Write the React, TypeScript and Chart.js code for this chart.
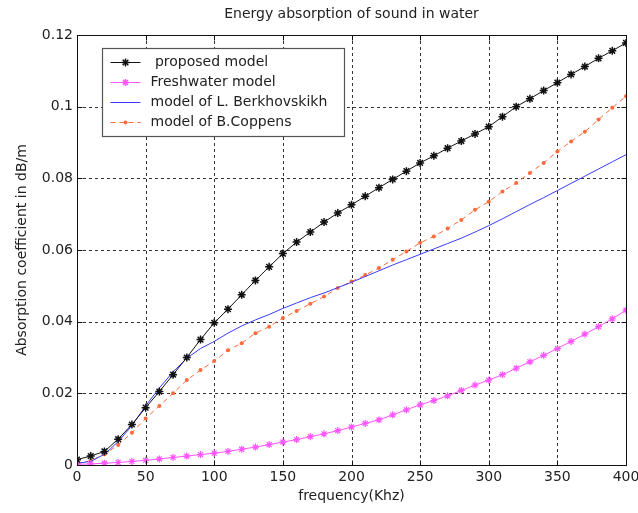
import { useEffect, useRef } from 'react';
import { Chart, registerables } from 'chart.js';

Chart.register(...registerables);

const chartTitle = 'Energy absorption of sound in water';
const xTitle = 'frequency(Khz)';
const yTitle = 'Absorption coefficient in dB/m';

const frequencies = [
  0, 10, 20, 30, 40, 50, 60, 70, 80, 90, 100, 110, 120, 130, 140, 150, 160, 170, 180, 190, 200,
  210, 220, 230, 240, 250, 260, 270, 280, 290, 300, 310, 320, 330, 340, 350, 360, 370, 380, 390, 400,
];

const proposedModel = [
  0.0015, 0.0025, 0.0038, 0.0072, 0.0113, 0.016, 0.0205, 0.0252, 0.03, 0.035, 0.0397,
  0.0435, 0.0475, 0.0515, 0.0553, 0.059, 0.0622, 0.065, 0.0678, 0.0703, 0.0726,
  0.075, 0.0774, 0.0797, 0.082, 0.0843, 0.0863, 0.0884, 0.0904, 0.0924, 0.0944,
  0.0972, 0.1, 0.1022, 0.1045, 0.1067, 0.109, 0.1112, 0.1135, 0.1156, 0.1178,
];

const freshwaterModel = [
  0.0002, 0.0003, 0.0005, 0.0007, 0.001, 0.0013, 0.0017, 0.0021, 0.0025, 0.0029, 0.0033,
  0.0038, 0.0044, 0.005, 0.0057, 0.0064, 0.0071, 0.0079, 0.0087, 0.0096, 0.0106,
  0.0116, 0.0126, 0.014, 0.0154, 0.0168, 0.018, 0.0193, 0.0208, 0.0223, 0.0237,
  0.0252, 0.027, 0.0288, 0.0306, 0.0325, 0.0345, 0.0365, 0.0386, 0.0408, 0.0432,
];

const berkhovskikhModel = [
  0.0005, 0.001, 0.003, 0.0065, 0.011, 0.0165, 0.0215, 0.026, 0.0298, 0.0325, 0.0345,
  0.0368, 0.0388, 0.0405, 0.042, 0.0437, 0.0452, 0.0467, 0.048, 0.0495, 0.051,
  0.0526, 0.0542, 0.0558, 0.0573, 0.0588, 0.0603, 0.0618, 0.0633, 0.065, 0.0668,
  0.0687, 0.0707, 0.0727, 0.0746, 0.0766, 0.0786, 0.0806, 0.0826, 0.0846, 0.0866,
];

const coppensModel = [
  0.0003, 0.0012, 0.003, 0.0056, 0.009, 0.013, 0.0165, 0.02, 0.0237, 0.0265, 0.029,
  0.032, 0.034, 0.0368, 0.0386, 0.041, 0.043, 0.045, 0.047, 0.0494, 0.0512,
  0.053, 0.055, 0.0573, 0.0596, 0.062, 0.0638, 0.066, 0.0684, 0.0712, 0.0735,
  0.0763, 0.0787, 0.0815, 0.0843, 0.0875, 0.0903, 0.093, 0.0964, 0.0997, 0.1029,
];

const seriesLabels = [' proposed model', 'Freshwater model', 'model of L. Berkhovskikh', 'model of B.Coppens'];

const xTicks = [0, 50, 100, 150, 200, 250, 300, 350, 400];
const xTickLabels = ['0', '50', '100', '150', '200', '250', '300', '350', '400'];
const yTicks = [0, 0.02, 0.04, 0.06, 0.08, 0.1, 0.12];
const yTickLabels = ['0', '0.02', '0.04', '0.06', '0.08', '0.1', '0.12'];

const FONT = '"DejaVu Sans", "Liberation Sans", sans-serif';

function drawMarker(ctx: CanvasRenderingContext2D, style: string, x: number, y: number, r: number, color: string) {
  ctx.save();
  ctx.strokeStyle = color;
  ctx.fillStyle = color;
  ctx.setLineDash([]);
  ctx.lineWidth = 1.5;
  if (style === 'star') {
    ctx.beginPath();
    ctx.moveTo(x - r, y); ctx.lineTo(x + r, y);
    ctx.moveTo(x, y - r); ctx.lineTo(x, y + r);
    const d = r * 0.707;
    ctx.moveTo(x - d, y - d); ctx.lineTo(x + d, y + d);
    ctx.moveTo(x - d, y + d); ctx.lineTo(x + d, y - d);
    ctx.stroke();
  } else if (style === 'circle') {
    ctx.beginPath();
    ctx.arc(x, y, r, 0, Math.PI * 2);
    ctx.fill();
  }
  ctx.restore();
}

const framePlugin = {
  id: 'matlabFrame',
  beforeDatasetsDraw(chart: any) {
    const { ctx, chartArea: a, scales } = chart;
    ctx.save();
    ctx.strokeStyle = '#333';
    ctx.lineWidth = 1;
    ctx.setLineDash([3, 3]);
    for (const v of xTicks) {
      const px = Math.round(scales.x.getPixelForValue(v)) + 0.5;
      if (px <= a.left + 1 || px >= a.right - 1) continue;
      ctx.beginPath(); ctx.moveTo(px, a.top); ctx.lineTo(px, a.bottom); ctx.stroke();
    }
    for (const v of yTicks) {
      const py = Math.round(scales.y.getPixelForValue(v)) + 0.5;
      if (py <= a.top + 1 || py >= a.bottom - 1) continue;
      ctx.beginPath(); ctx.moveTo(a.left, py); ctx.lineTo(a.right, py); ctx.stroke();
    }
    ctx.restore();
  },
  afterDatasetsDraw(chart: any) {
    const { ctx, chartArea: a, scales } = chart;
    ctx.save();
    ctx.strokeStyle = '#111';
    ctx.lineWidth = 1;
    ctx.setLineDash([]);
    const L = Math.round(a.left) + 0.5, R = Math.round(a.right) + 0.5;
    const T = Math.round(a.top) + 0.5, B = Math.round(a.bottom) + 0.5;
    ctx.strokeRect(L, T, R - L, B - T);
    const tl = 5;
    ctx.beginPath();
    for (const v of xTicks) {
      const px = Math.round(scales.x.getPixelForValue(v)) + 0.5;
      ctx.moveTo(px, B); ctx.lineTo(px, B - tl);
      ctx.moveTo(px, T); ctx.lineTo(px, T + tl);
    }
    for (const v of yTicks) {
      const py = Math.round(scales.y.getPixelForValue(v)) + 0.5;
      ctx.moveTo(L, py); ctx.lineTo(L + tl, py);
      ctx.moveTo(R, py); ctx.lineTo(R - tl, py);
    }
    ctx.stroke();

    // legend
    const bx = Math.round(a.left) + 25.5, by = Math.round(a.top) + 13.5;
    const bw = 242, bh = 88;
    ctx.fillStyle = '#fff';
    ctx.fillRect(bx, by, bw, bh);
    ctx.strokeStyle = '#555';
    ctx.lineWidth = 1.2;
    ctx.strokeRect(bx, by, bw, bh);
    ctx.font = `14px ${FONT}`;
    ctx.textBaseline = 'middle';
    ctx.textAlign = 'left';
    chart.data.datasets.forEach((ds: any, i: number) => {
      const y = by + 14 + i * 20;
      ctx.save();
      ctx.strokeStyle = ds.borderColor;
      ctx.lineWidth = ds.borderWidth;
      ctx.setLineDash(ds.borderDash || []);
      ctx.beginPath(); ctx.moveTo(bx + 8, y); ctx.lineTo(bx + 38, y); ctx.stroke();
      ctx.restore();
      if (ds.pointRadius > 0) drawMarker(ctx, ds.pointStyle, bx + 23, y, ds.pointRadius, ds.pointBorderColor);
      ctx.fillStyle = '#222';
      ctx.fillText(ds.label, bx + 48, y);
    });

    // title
    ctx.fillStyle = '#222';
    ctx.textAlign = 'center';
    ctx.font = `14px ${FONT}`;
    ctx.fillText(chartTitle, (a.left + a.right) / 2, 14);
    ctx.restore();
  },
};

const toPoints = (vals: number[]) => frequencies.map((f, i) => ({ x: f, y: vals[i] }));

export default function App() {
  const ref = useRef<HTMLCanvasElement | null>(null);
  useEffect(() => {
    document.body.style.margin = '0';
    if (!ref.current) return;
    Chart.defaults.font.family = FONT;
    Chart.defaults.font.size = 14;
    Chart.defaults.color = '#222';
    const chart = new Chart(ref.current, {
      type: 'line',
      data: {
        datasets: [
          {
            label: seriesLabels[0],
            data: toPoints(proposedModel),
            borderColor: '#111',
            borderWidth: 1,
            pointStyle: 'star',
            pointRadius: 4,
            pointBorderColor: '#111',
            pointBorderWidth: 1.5,
            pointBackgroundColor: '#111',
          },
          {
            label: seriesLabels[1],
            data: toPoints(freshwaterModel),
            borderColor: '#ff55ff',
            borderWidth: 1,
            pointStyle: 'star',
            pointRadius: 3.5,
            pointBorderColor: '#ff55ff',
            pointBorderWidth: 1.2,
            pointBackgroundColor: '#ff55ff',
          },
          {
            label: seriesLabels[2],
            data: toPoints(berkhovskikhModel),
            borderColor: '#3a3aff',
            borderWidth: 1,
            pointRadius: 0,
            pointStyle: 'circle',
            pointBorderColor: '#3a3aff',
          },
          {
            label: seriesLabels[3],
            data: toPoints(coppensModel),
            borderColor: '#ff6a3a',
            borderWidth: 1,
            borderDash: [5, 4],
            pointStyle: 'circle',
            pointRadius: 2,
            pointBorderWidth: 0,
            pointBorderColor: '#ff6a3a',
            pointBackgroundColor: '#ff6a3a',
          },
        ] as any,
      },
      options: {
        animation: false,
        responsive: false,
        layout: { padding: { top: 35, right: 12, left: 0, bottom: 0 } },
        plugins: { legend: { display: false }, title: { display: false }, tooltip: { enabled: false } },
        elements: { line: { tension: 0 } },
        scales: {
          x: {
            type: 'linear',
            min: 0,
            max: 400,
            grid: { display: false, drawTicks: false },
            border: { display: false },
            afterBuildTicks: (s: any) => { s.ticks = xTicks.map((v) => ({ value: v })); },
            afterFit: (s: any) => { s.height = 48; s.paddingLeft = 0; s.paddingRight = 0; },
            ticks: {
              padding: 4,
              maxRotation: 0,
              autoSkip: false,
              callback: (v: any) => xTickLabels[xTicks.indexOf(Number(v))] ?? '',
            },
            title: { display: true, text: xTitle, padding: { top: 0, bottom: 8 }, font: { size: 14 } },
          },
          y: {
            type: 'linear',
            min: 0,
            max: 0.12,
            grid: { display: false, drawTicks: false },
            border: { display: false },
            afterBuildTicks: (s: any) => { s.ticks = yTicks.map((v) => ({ value: v })); },
            afterFit: (s: any) => { s.width = 77; s.paddingTop = 0; s.paddingBottom = 0; },
            ticks: {
              padding: 4,
              autoSkip: false,
              callback: (v: any, i: number) => yTickLabels[i] ?? '',
            },
            title: { display: true, text: yTitle, padding: { top: 14, bottom: 0 }, font: { size: 14 } },
          },
        },
      },
      plugins: [framePlugin],
    });
    return () => chart.destroy();
  }, []);
  return (
    <div style={{ width: 638, height: 513 }}>
      <canvas ref={ref} width={638} height={513} style={{ display: 'block' }} />
    </div>
  );
}
